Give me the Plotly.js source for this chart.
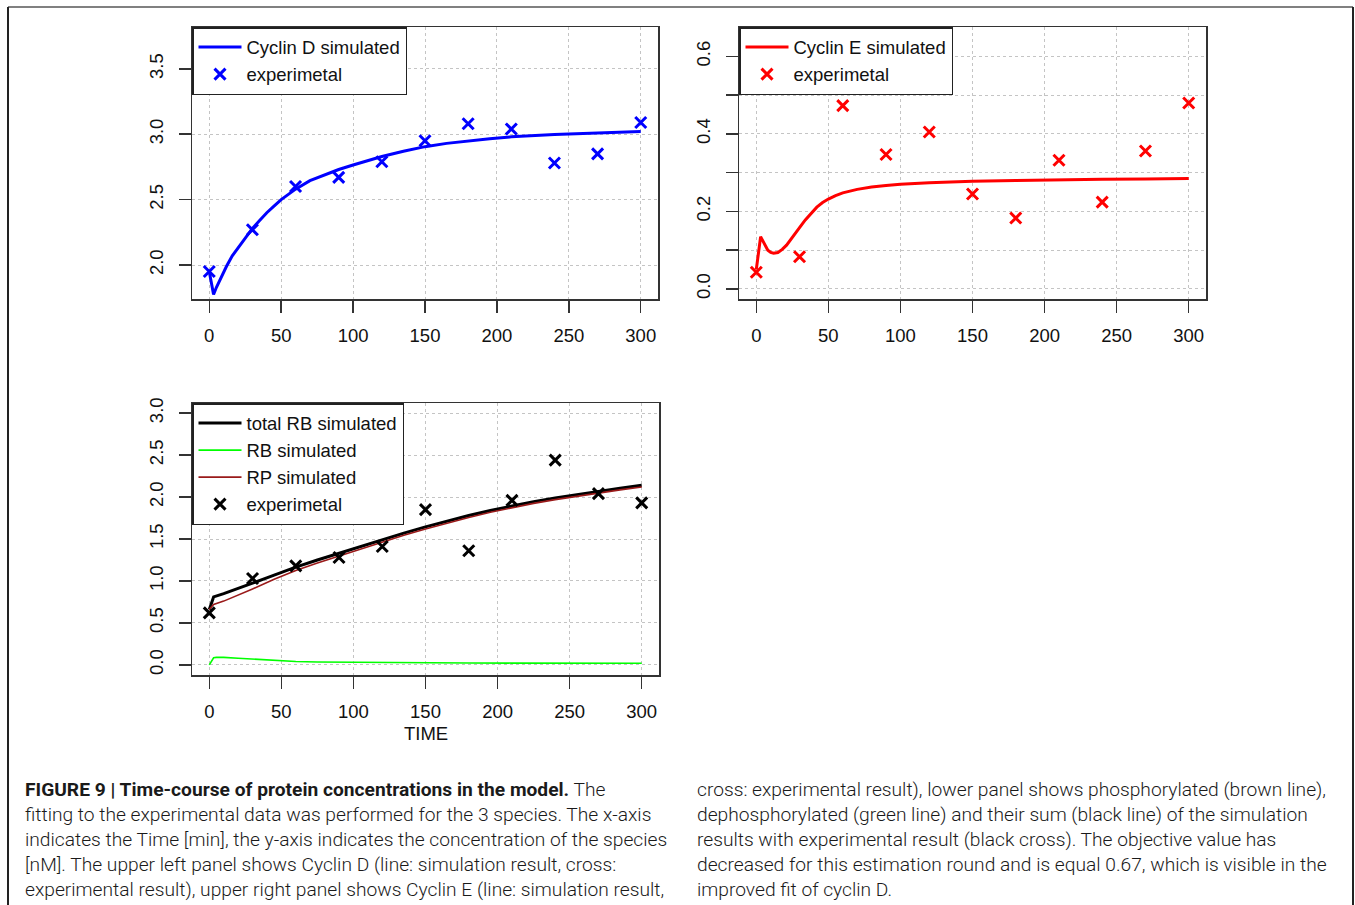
<!DOCTYPE html>
<html>
<head>
<meta charset="utf-8">
<script src="https://cdn.plot.ly/plotly-3.0.1.min.js"></script>
<style>
html,body{margin:0;padding:0;background:#fff;}
#chart{width:1355px;height:905px;}
</style>
</head>
<body>
<div id="chart"></div>
<script>
// ---------- Data ----------
// Experimental sampling times (min)
const expTime = [0, 30, 60, 90, 120, 150, 180, 210, 240, 270, 300];

// Cyclin D
const cycDExp = [1.95, 2.27, 2.60, 2.67, 2.79, 2.95, 3.08, 3.04, 2.78, 2.85, 3.09];
const cycDSimTime = [0, 3, 5, 8, 12, 16, 20, 25, 30, 35, 40, 45, 50, 55, 60, 70, 80, 90, 100, 110, 120, 135, 150, 165, 180, 195, 210, 225, 240, 255, 270, 285, 300];
const cycDSim = [1.95, 1.775, 1.83, 1.90, 1.99, 2.07, 2.13, 2.21, 2.28, 2.34, 2.40, 2.45, 2.50, 2.54, 2.58, 2.645, 2.69, 2.73, 2.765, 2.80, 2.83, 2.87, 2.905, 2.93, 2.95, 2.965, 2.98, 2.99, 2.997, 3.003, 3.008, 3.013, 3.02];

// Cyclin E
const cycEExp = [0.043, 0.083, 0.473, 0.347, 0.405, 0.245, 0.183, 0.332, 0.224, 0.356, 0.480];
const cycESimTime = [0, 1, 2, 3, 4, 6, 8, 10, 12, 15, 18, 21, 24, 27, 30, 34, 38, 42, 46, 50, 55, 60, 70, 80, 90, 100, 120, 150, 180, 210, 240, 270, 300];
const cycESim = [0.050, 0.08, 0.115, 0.135, 0.128, 0.112, 0.100, 0.094, 0.092, 0.094, 0.102, 0.113, 0.127, 0.143, 0.158, 0.178, 0.196, 0.211, 0.223, 0.232, 0.241, 0.248, 0.257, 0.263, 0.267, 0.270, 0.274, 0.278, 0.280, 0.282, 0.283, 0.284, 0.285];

// RB
const rbExp = [0.62, 1.03, 1.18, 1.28, 1.41, 1.85, 1.36, 1.96, 2.44, 2.04, 1.93];
const rbSimTime = [0, 3, 10, 20, 30, 45, 60, 75, 90, 105, 120, 135, 150, 165, 180, 195, 210, 225, 240, 255, 270, 285, 300];
const totalRbSim = [0.66, 0.81, 0.85, 0.91, 0.975, 1.07, 1.165, 1.25, 1.33, 1.415, 1.495, 1.57, 1.645, 1.715, 1.78, 1.84, 1.895, 1.945, 1.99, 2.03, 2.07, 2.105, 2.14];
const rpSim = [0.66, 0.72, 0.76, 0.83, 0.905, 1.02, 1.125, 1.215, 1.298, 1.385, 1.467, 1.544, 1.62, 1.692, 1.757, 1.818, 1.873, 1.924, 1.969, 2.01, 2.05, 2.085, 2.12];
const rbGreenTime = [0, 3, 5, 10, 20, 30, 45, 60, 75, 90, 120, 150, 180, 210, 240, 270, 300];
const rbGreenSim = [0.0, 0.085, 0.09, 0.09, 0.08, 0.07, 0.05, 0.04, 0.035, 0.032, 0.028, 0.025, 0.023, 0.022, 0.021, 0.02, 0.02];

const xTicks = [0, 50, 100, 150, 200, 250, 300];
const yTicksD = [2.0, 2.5, 3.0, 3.5];
const yTicksE = [0.0, 0.1, 0.2, 0.3, 0.4, 0.5, 0.6];
const yTicksELabels = ['0.0', '', '0.2', '', '0.4', '', '0.6'];
const yTicksRB = [0.0, 0.5, 1.0, 1.5, 2.0, 2.5, 3.0];

const captionLeft = [
  '<b>FIGURE 9 | Time-course of protein concentrations in the model.</b> The',
  'fitting to the experimental data was performed for the 3 species. The x-axis',
  'indicates the Time [min], the y-axis indicates the concentration of the species',
  '[nM]. The upper left panel shows Cyclin D (line: simulation result, cross:',
  'experimental result), upper right panel shows Cyclin E (line: simulation result,'
];
const captionRight = [
  'cross: experimental result), lower panel shows phosphorylated (brown line),',
  'dephosphorylated (green line) and their sum (black line) of the simulation',
  'results with experimental result (black cross). The objective value has',
  'decreased for this estimation round and is equal 0.67, which is visible in the',
  'improved fit of cyclin D.'
];

// ---------- Layout helpers ----------
const W = 1355, H = 905;
const px = v => v / W;
const py = v => 1 - v / H;
const FONT = 'Liberation Sans, Arial, Helvetica, sans-serif';
const CAPFONT = 'Roboto, Liberation Sans, Arial, sans-serif';

function crossMarker(color) {
  return {symbol: 'x-thin-open', size: 11, color: color, line: {color: color, width: 3}};
}

const traces = [
  {x: cycDSimTime, y: cycDSim, mode: 'lines', name: 'Cyclin D simulated', xaxis: 'x', yaxis: 'y',
   line: {color: '#0000FF', width: 3}, legend: 'legend'},
  {x: expTime, y: cycDExp, mode: 'markers', name: 'experimetal', xaxis: 'x', yaxis: 'y',
   marker: crossMarker('#0000FF'), legend: 'legend'},

  {x: cycESimTime, y: cycESim, mode: 'lines', name: 'Cyclin E simulated', xaxis: 'x2', yaxis: 'y2',
   line: {color: '#FF0000', width: 3}, legend: 'legend2'},
  {x: expTime, y: cycEExp, mode: 'markers', name: 'experimetal', xaxis: 'x2', yaxis: 'y2',
   marker: crossMarker('#FF0000'), legend: 'legend2'},

  {x: rbSimTime, y: totalRbSim, mode: 'lines', name: 'total RB simulated', xaxis: 'x3', yaxis: 'y3',
   line: {color: '#000000', width: 3}, legend: 'legend3'},
  {x: rbGreenTime, y: rbGreenSim, mode: 'lines', name: 'RB simulated', xaxis: 'x3', yaxis: 'y3',
   line: {color: '#00FF00', width: 1.6}, legend: 'legend3'},
  {x: rbSimTime, y: rpSim, mode: 'lines', name: 'RP simulated', xaxis: 'x3', yaxis: 'y3',
   line: {color: '#9A1A1A', width: 1.6}, legend: 'legend3'},
  {x: expTime, y: rbExp, mode: 'markers', name: 'experimetal', xaxis: 'x3', yaxis: 'y3',
   marker: crossMarker('#000000'), legend: 'legend3'}
];

function xAxis(d0, d1, anchor) {
  return {
    domain: [px(d0), px(d1)], anchor: anchor, range: [-12, 312],
    tickvals: xTicks, ticktext: xTicks.map(String),
    ticks: 'outside', ticklen: 12, tickwidth: 1.5, tickcolor: '#333',
    showline: true, mirror: true, linecolor: '#333', linewidth: 1.5,
    showgrid: true, gridcolor: '#c4c4c4', griddash: 'dot', gridwidth: 1,
    zeroline: false, tickfont: {family: FONT, size: 18.5, color: '#111'},
    ticklabelstandoff: 7, fixedrange: true
  };
}
function yAxis(t0, t1, anchor, range, vals, labels) {
  return {
    domain: [py(t1), py(t0)], anchor: anchor, range: range,
    tickvals: vals, ticktext: labels, tickangle: -90,
    ticks: 'outside', ticklen: 12, tickwidth: 1.5, tickcolor: '#333',
    showline: true, mirror: true, linecolor: '#333', linewidth: 1.5,
    showgrid: true, gridcolor: '#c4c4c4', griddash: 'dot', gridwidth: 1,
    zeroline: false, tickfont: {family: FONT, size: 18.5, color: '#111'},
    ticklabelstandoff: 8, fixedrange: true
  };
}
function legendAt(x, y) {
  return {
    x: px(x), y: py(y), xanchor: 'left', yanchor: 'top',
    bgcolor: '#fff', bordercolor: '#222', borderwidth: 1.5,
    font: {family: FONT, size: 18.5, color: '#111'},
    itemwidth: 43, tracegroupgap: 0, traceorder: 'normal'
  };
}

const annotations = [];
const capY = [789, 814, 839, 864, 889];
captionLeft.forEach((t, i) => annotations.push({
  text: t, xref: 'paper', yref: 'paper', x: px(23), y: py(capY[i]),
  xanchor: 'left', yanchor: 'middle', showarrow: false, align: 'left',
  font: {family: CAPFONT, size: 19.2, color: '#1a1a1a', weight: 300}
}));
captionRight.forEach((t, i) => annotations.push({
  text: t, xref: 'paper', yref: 'paper', x: px(695), y: py(capY[i]),
  xanchor: 'left', yanchor: 'middle', showarrow: false, align: 'left',
  font: {family: CAPFONT, size: 19.2, color: '#1a1a1a', weight: 300}
}));
annotations.push({
  text: 'TIME', xref: 'paper', yref: 'paper', x: px(425.5), y: py(733),
  xanchor: 'center', yanchor: 'middle', showarrow: false,
  font: {family: FONT, size: 18.5, color: '#111'}
});

const layout = {
  width: W, height: H,
  margin: {l: 0, r: 0, t: 0, b: 0},
  paper_bgcolor: '#fff', plot_bgcolor: '#fff',
  showlegend: true,
  xaxis: xAxis(192, 658, 'y'),
  yaxis: yAxis(27, 299, 'x', [1.74, 3.82], yTicksD, yTicksD.map(v => v.toFixed(1))),
  xaxis2: xAxis(739, 1206, 'y2'),
  yaxis2: yAxis(27, 299, 'x2', [-0.026, 0.676], yTicksE, yTicksELabels),
  xaxis3: xAxis(192, 659, 'y3'),
  yaxis3: yAxis(403, 675, 'x3', [-0.12, 3.12], yTicksRB, yTicksRB.map(v => v.toFixed(1))),
  legend: legendAt(192, 27),
  legend2: legendAt(739, 27),
  legend3: legendAt(192, 403),
  annotations: annotations,
  shapes: [
    {type: 'line', xref: 'paper', yref: 'paper', x0: px(8), x1: px(1353), y0: py(7), y1: py(7),
     line: {color: '#808080', width: 2}},
    {type: 'line', xref: 'paper', yref: 'paper', x0: px(8), x1: px(8), y0: py(7), y1: -0.05,
     line: {color: '#222', width: 2}},
    {type: 'line', xref: 'paper', yref: 'paper', x0: px(1353), x1: px(1353), y0: py(7), y1: -0.05,
     line: {color: '#222', width: 2}}
  ]
};

Plotly.newPlot('chart', traces, layout, {displayModeBar: false, staticPlot: true});
</script>
</body>
</html>
